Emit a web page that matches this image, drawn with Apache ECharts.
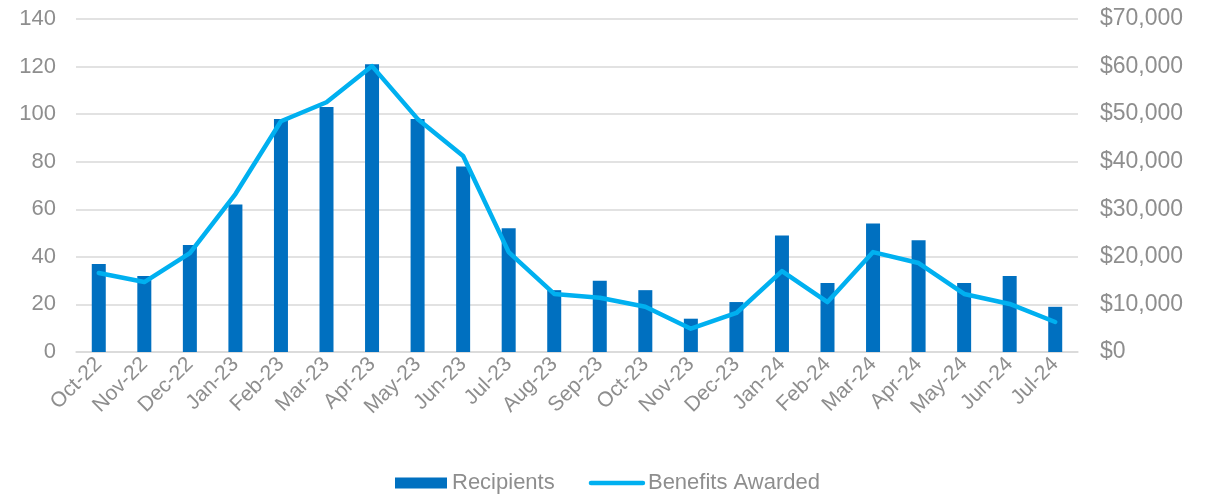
<!DOCTYPE html>
<html>
<head>
<meta charset="utf-8">
<script src="https://cdn.jsdelivr.net/npm/echarts@6/dist/echarts.min.js"></script>
<style>
  html, body { margin: 0; padding: 0; background: #fff; }
  #chart { width: 1215px; height: 499px; }
</style>
</head>
<body>
<div id="chart"></div>
<script>
  // data
  var months = ['Oct-22', 'Nov-22', 'Dec-22', 'Jan-23', 'Feb-23', 'Mar-23', 'Apr-23', 'May-23',
    'Jun-23', 'Jul-23', 'Aug-23', 'Sep-23', 'Oct-23', 'Nov-23', 'Dec-23', 'Jan-24', 'Feb-24',
    'Mar-24', 'Apr-24', 'May-24', 'Jun-24', 'Jul-24'];
  var recipients = [37, 32, 45, 62, 98, 103, 121, 98, 78, 52, 26, 30, 26, 14, 21, 49, 29, 54, 47, 29, 32, 19];
  var benefits = [16600, 14700, 20800, 33200, 48500, 52500, 60100, 49000, 41200, 21000, 12200, 11400,
    9500, 4900, 8200, 17000, 10500, 21000, 18700, 12200, 10100, 6300];
  var leftTicks = [0, 140, 20];
  var rightTicks = [0, 70000, 10000];

  var font = 'Liberation Sans, Arial, sans-serif';
  var grey = '#8e8e8e';

  function money(v) {
    return '$' + String(v).replace(/\B(?=(\d{3})+(?!\d))/g, ',');
  }

  var chart = echarts.init(document.getElementById('chart'));
  chart.setOption({
    animation: false,
    textStyle: { fontFamily: font },
    grid: { left: 76, right: 137, top: 19, bottom: 147 },
    legend: {
      bottom: 0,
      itemWidth: 52,
      itemHeight: 11,
      itemGap: 34,
      textStyle: { color: grey, fontSize: 22, fontFamily: font },
      data: [
        { name: 'Recipients', icon: 'rect' },
        {
          name: 'Benefits Awarded',
          itemStyle: { opacity: 0 },
          lineStyle: { width: 4.5, cap: 'round', color: '#00B0F0' }
        }
      ]
    },
    xAxis: {
      type: 'category',
      data: months,
      axisLine: { lineStyle: { color: '#d9d9d9', width: 1.5 } },
      axisTick: { show: false },
      axisLabel: { rotate: 45, color: grey, fontSize: 21, margin: 9, interval: 0 }
    },
    yAxis: [
      {
        type: 'value',
        min: leftTicks[0], max: leftTicks[1], interval: leftTicks[2],
        axisLine: { show: false },
        axisTick: { show: false },
        axisLabel: { color: grey, fontSize: 22, margin: 20 },
        splitLine: { lineStyle: { color: '#d9d9d9', width: 1.5 } }
      },
      {
        type: 'value',
        min: rightTicks[0], max: rightTicks[1], interval: rightTicks[2],
        axisLine: { show: false },
        axisTick: { show: false },
        splitLine: { show: false },
        axisLabel: { color: grey, fontSize: 23, margin: 22, formatter: money }
      }
    ],
    series: [
      {
        name: 'Recipients',
        type: 'bar',
        data: recipients,
        barWidth: 14,
        itemStyle: { color: '#0070C0' }
      },
      {
        name: 'Benefits Awarded',
        type: 'line',
        yAxisIndex: 1,
        data: benefits,
        symbol: 'none',
        z: 3,
        itemStyle: { color: '#00B0F0' },
        lineStyle: { color: '#00B0F0', width: 4.5, cap: 'round', join: 'round' }
      }
    ]
  });
</script>
</body>
</html>
